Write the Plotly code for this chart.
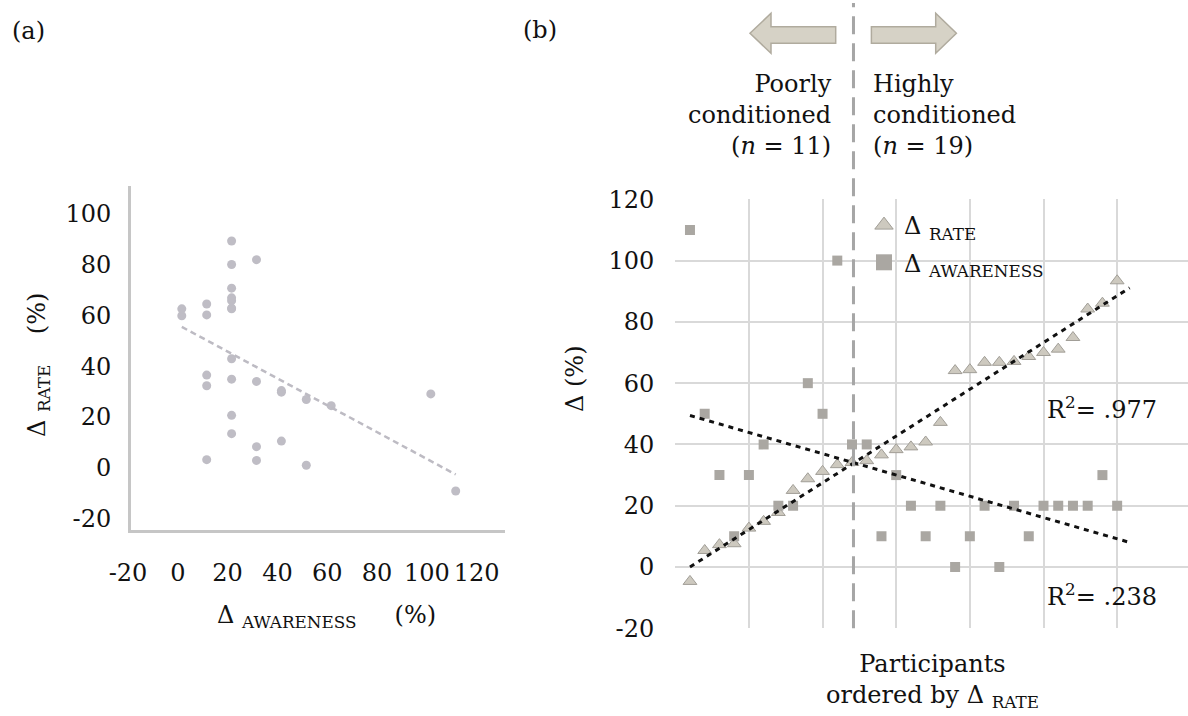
import numpy as np
import plotly.graph_objects as go

W, H = 1188, 716
FONT = "DejaVu Serif"

# Participants, ordered by their change in response rate
participant = list(range(1, 31))
rate_change = [-4.7, 5.4, 7.3, 7.6, 12.7, 14.9, 17.8, 25.0, 28.8, 31.2,
               33.4, 34.1, 34.7, 36.6, 38.3, 39.2, 40.8, 47.2, 64.1, 64.4,
               66.8, 66.8, 67.1, 68.7, 70.0, 71.1, 74.9, 84.2, 86.1, 93.4]
awareness_change = [110, 50, 30, 10, 30, 40, 20, 20, 60, 50,
                    100, 40, 40, 10, 30, 20, 10, 20, 0, 10,
                    20, 0, 20, 10, 20, 20, 20, 20, 30, 20]
n_poor, n_high = 11, 19
r2_rate_label = ".977"
r2_awareness_label = ".238"

a_xticks = [-20, 0, 20, 40, 60, 80, 100, 120]
a_yticks = [-20, 0, 20, 40, 60, 80, 100]
b_yticks = [-20, 0, 20, 40, 60, 80, 100, 120]


def px(x):
    return x / W


def py(y):
    return 1 - y / H


def labels(ticks):
    # plain hyphen for negatives
    return [str(t) for t in ticks]


# least-squares trend lines
a_slope, a_icpt = np.polyfit(awareness_change, rate_change, 1)
a_tx = np.array([min(awareness_change), max(awareness_change)])
rate_fit = np.polyfit(participant, rate_change, 1)
aw_fit = np.polyfit(participant, awareness_change, 1)
b_tx = np.array([participant[0], participant[-1] + 0.85])

fig = go.Figure()

# (a) rate change against awareness change
fig.add_trace(go.Scatter(
    x=awareness_change, y=rate_change, mode="markers",
    marker=dict(size=9, color="#bfbdc5"), showlegend=False,
    xaxis="x", yaxis="y"))
fig.add_trace(go.Scatter(
    x=a_tx, y=a_slope * a_tx + a_icpt, mode="lines",
    line=dict(color="#bdbbc3", width=2.5, dash="6px,4px"),
    showlegend=False, xaxis="x", yaxis="y"))

# (b) both changes per participant
fig.add_trace(go.Scatter(
    x=participant, y=rate_change, mode="markers",
    marker=dict(symbol="triangle-up", size=12, color="#cdc9bf",
                line=dict(color="#a19e97", width=1)),
    showlegend=False, xaxis="x2", yaxis="y2"))
fig.add_trace(go.Scatter(
    x=participant, y=awareness_change, mode="markers",
    marker=dict(symbol="square", size=10, color="#aaa7a2"),
    showlegend=False, xaxis="x2", yaxis="y2"))
for fit in (rate_fit, aw_fit):
    fig.add_trace(go.Scatter(
        x=b_tx, y=np.polyval(fit, b_tx), mode="lines",
        line=dict(color="#111111", width=3, dash="5px,5px"),
        showlegend=False, xaxis="x2", yaxis="y2"))

# legend entries
fig.add_trace(go.Scatter(
    x=[None], y=[None], mode="markers", name="Δ <sub>RATE</sub>",
    legendgroup="rate",
    marker=dict(symbol="triangle-up", size=16, color="#cdc9bf",
                line=dict(color="#a19e97", width=1)),
    xaxis="x2", yaxis="y2"))
fig.add_trace(go.Scatter(
    x=[None], y=[None], mode="markers", name="Δ <sub>AWARENESS</sub>",
    legendgroup="aw",
    marker=dict(symbol="square", size=16, color="#aaa7a2"),
    xaxis="x2", yaxis="y2"))

tick_font = dict(family=FONT, size=24, color="#111111")

fig.update_layout(
    width=W, height=H,
    margin=dict(l=0, r=0, t=0, b=0, pad=0, autoexpand=False),
    paper_bgcolor="white", plot_bgcolor="rgba(0,0,0,0)",
    font=dict(family=FONT, size=24, color="#111111"),
    xaxis=dict(domain=[px(131), px(505)], range=[-20.4, 129.8],
               tickvals=a_xticks, ticktext=labels(a_xticks),
               showgrid=False, zeroline=False,
               showline=True, linecolor="#c6c6c6", linewidth=3,
               ticks="", ticklabelstandoff=19, ticklabelshift=-4,
               tickfont=tick_font, anchor="y"),
    yaxis=dict(domain=[py(530), py(186)], range=[-20, 115],
               tickvals=a_yticks, ticktext=labels(a_yticks),
               showgrid=False, zeroline=False,
               showline=True, linecolor="#c6c6c6", linewidth=3,
               ticks="", ticklabelstandoff=12, ticklabelshift=-11,
               tickfont=tick_font, anchor="x"),
    xaxis2=dict(domain=[px(675.25), 1.0], range=[0, 34.81],
                tick0=0, dtick=5, showgrid=True, gridcolor="#d9d9d9",
                gridwidth=1.5, zeroline=False, showticklabels=False,
                ticks="", anchor="y2"),
    yaxis2=dict(domain=[py(628.3), py(199.3)], range=[-20, 120],
                tickvals=b_yticks, ticktext=labels(b_yticks),
                showgrid=True, gridcolor="#d9d9d9",
                gridwidth=1.5, zeroline=False, ticks="",
                ticklabelstandoff=20, tickfont=tick_font, anchor="x2"),
    legend=dict(x=px(864), y=py(203), xanchor="left", yanchor="top",
                bgcolor="rgba(0,0,0,0)", font=dict(family=FONT, size=24),
                tracegroupgap=3, itemsizing="trace"),
)

# divider between poorly and highly conditioned participants
split_x = 12.1
fig.add_shape(type="line", xref="x2", yref="paper", x0=split_x, x1=split_x,
              y0=py(628.3), y1=py(3), line=dict(color="#a6a6a6", width=3,
                                                 dash="18px,9px"))


def arrow_path(pts):
    return "M " + " L ".join(f"{px(x):.5f},{py(y):.5f}" for x, y in pts) + " Z"


left_arrow = [(835.7, 26.7), (771, 26.7), (771, 13.3), (750, 33.3),
              (771, 53.3), (771, 43.3), (835.7, 43.3)]
right_arrow = [(871.4, 26.7), (935.7, 26.7), (935.7, 13.3), (956.4, 33.3),
               (935.7, 53.3), (935.7, 43.3), (871.4, 43.3)]
for pts in (left_arrow, right_arrow):
    fig.add_shape(type="path", xref="paper", yref="paper", path=arrow_path(pts),
                  fillcolor="#d6d2c6", line=dict(color="#b0ab9e", width=1.5))

ann = [
    dict(text="(a)", x=px(10), y=py(31), xanchor="left", yanchor="middle"),
    dict(text="(b)", x=px(521), y=py(30), xanchor="left", yanchor="middle"),
    dict(text=f"Poorly<br>conditioned<br>(<i>n</i> = {n_poor})",
         x=px(834), y=py(115), xanchor="right", yanchor="middle", align="right"),
    dict(text=f"Highly<br>conditioned<br>(<i>n</i> = {n_high})",
         x=px(871.4), y=py(115), xanchor="left", yanchor="middle", align="left"),
    dict(text="Δ <sub>RATE</sub>\u00a0\u00a0\u00a0\u00a0(%)", textangle=-90,
         x=px(38), y=py(365), xanchor="center", yanchor="middle"),
    dict(text="Δ <sub>AWARENESS</sub>\u00a0\u00a0\u00a0\u00a0\u00a0(%)",
         x=px(326), y=py(616), xanchor="center", yanchor="middle"),
    dict(text="Δ (%)", textangle=-90, x=px(575), y=py(379),
         xanchor="center", yanchor="middle"),
    dict(text="Participants<br>ordered by Δ <sub>RATE</sub>",
         x=px(932), y=py(648), xanchor="center", yanchor="top", align="center"),
]
for a in ann:
    fig.add_annotation(xref="paper", yref="paper", showarrow=False,
                       font=dict(family=FONT, size=24, color="#111111"), **a)

for label, yv in ((r2_rate_label, 52), (r2_awareness_label, -9)):
    fig.add_annotation(xref="x2", yref="y2", x=25.1, y=yv, showarrow=False,
                       xanchor="left", yanchor="middle",
                       text=f"R<sup>2</sup>= {label}",
                       font=dict(family=FONT, size=24, color="#111111"))

fig.write_html("out.html")
